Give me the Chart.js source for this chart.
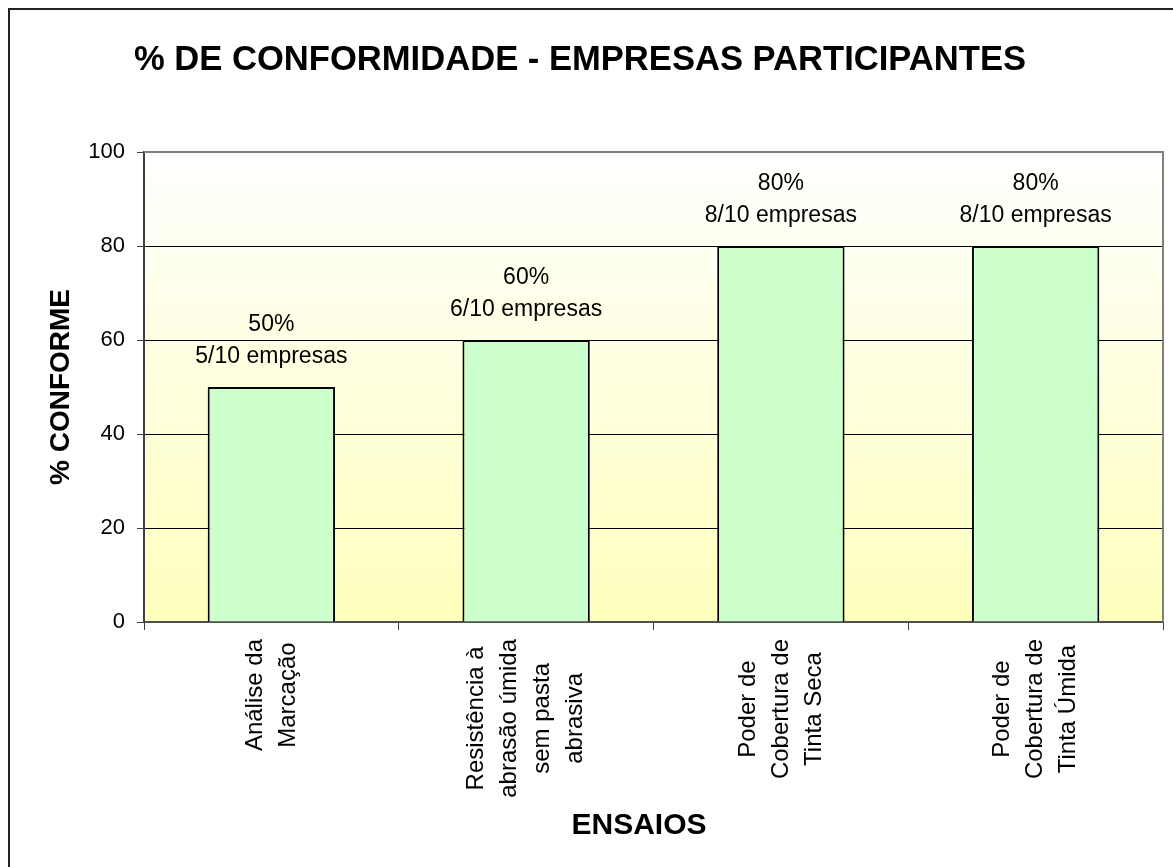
<!DOCTYPE html>
<html>
<head>
<meta charset="utf-8">
<script src="https://cdn.jsdelivr.net/npm/chart.js@4.4.0/dist/chart.umd.min.js"></script>
<style>
  body { margin: 0; background: #fff; }
  canvas { display: block; }
</style>
</head>
<body>
<canvas id="conformidade_chart" width="1173" height="867"></canvas>
<script>
// data
var ensaios = [
  ["Análise da", "Marcação"],
  ["Resistência à", "abrasão úmida", "sem pasta", "abrasiva"],
  ["Poder de", "Cobertura de", "Tinta Seca"],
  ["Poder de", "Cobertura de", "Tinta Úmida"]
];
var conforme = [50, 60, 80, 80];
var empresas_ok = [5, 6, 8, 8];
var empresas_total = 10;
var y_ticks = [0, 20, 40, 60, 80, 100];

var FONT = "Arial, 'Liberation Sans', sans-serif";
Chart.defaults.font.family = FONT;
Chart.defaults.color = "#000";

var decor = {
  id: "decor",
  beforeDraw: function(chart) {
    var ctx = chart.ctx, a = chart.chartArea;
    ctx.save();
    ctx.fillStyle = "#fff";
    ctx.fillRect(0, 0, chart.width, chart.height);
    // plot background: white to pale yellow
    var g = ctx.createLinearGradient(0, a.top, 0, a.bottom);
    g.addColorStop(0, "#ffffff");
    g.addColorStop(1, "#ffffbd");
    ctx.fillStyle = g;
    ctx.fillRect(a.left, a.top, a.right - a.left, a.bottom - a.top);
    ctx.restore();
  },
  afterDatasetsDraw: function(chart) {
    // two line labels above each bar
    var ctx = chart.ctx;
    var bars = chart.getDatasetMeta(0).data;
    ctx.save();
    ctx.font = "23px " + FONT;
    ctx.fillStyle = "#000";
    ctx.textAlign = "center";
    ctx.textBaseline = "middle";
    for (var i in bars) {
      var b = bars[i];
      ctx.fillText(conforme[i] + "%", b.x, b.y - 62);
      ctx.fillText(empresas_ok[i] + "/" + empresas_total + " empresas", b.x, b.y - 30);
    }
    ctx.restore();
  },
  afterDraw: function(chart) {
    var ctx = chart.ctx, a = chart.chartArea;
    var xs = chart.scales.x;
    ctx.save();

    // plot border top / right
    ctx.strokeStyle = "#808080";
    ctx.lineWidth = 2;
    ctx.beginPath();
    ctx.moveTo(a.left, a.top);
    ctx.lineTo(a.right, a.top);
    ctx.lineTo(a.right, a.bottom);
    ctx.stroke();

    // rotated category labels, lines centred in the block
    ctx.font = "24px " + FONT;
    ctx.fillStyle = "#000";
    ctx.textAlign = "center";
    ctx.textBaseline = "middle";
    for (var i = 0; i < ensaios.length; i++) {
      var lines = ensaios[i];
      var w = 0;
      for (var k = 0; k < lines.length; k++) w = Math.max(w, ctx.measureText(lines[k]).width);
      var x = xs.getPixelForValue(i);
      ctx.save();
      ctx.translate(x, a.bottom + 17 + w / 2);
      ctx.rotate(-Math.PI / 2);
      for (var k = 0; k < lines.length; k++) {
        ctx.fillText(lines[k], 0, (k - (lines.length - 1) / 2) * 33);
      }
      ctx.restore();
    }

    // titles
    ctx.font = "bold 34.6px " + FONT;
    ctx.textBaseline = "alphabetic";
    ctx.fillText("% DE CONFORMIDADE - EMPRESAS PARTICIPANTES", 580, 70);

    ctx.font = "bold 30px " + FONT;
    ctx.fillText("ENSAIOS", 639, 834);

    ctx.save();
    ctx.font = "bold 28px " + FONT;
    ctx.translate(69, (a.top + a.bottom) / 2);
    ctx.rotate(-Math.PI / 2);
    ctx.fillText("% CONFORME", 0, 0);
    ctx.restore();

    // outer frame (right and bottom sides fall outside the picture)
    ctx.strokeStyle = "#222";
    ctx.lineWidth = 2;
    ctx.strokeRect(9, 9, chart.width + 20, chart.height + 20);
    ctx.restore();
  }
};

new Chart(document.getElementById("conformidade_chart"), {
  type: "bar",
  data: {
    labels: ensaios,
    datasets: [{
      data: conforme,
      backgroundColor: "#ccffcc",
      borderColor: "#000",
      borderWidth: 2,
      categoryPercentage: 1,
      barPercentage: 0.5
    }]
  },
  options: {
    responsive: false,
    animation: false,
    devicePixelRatio: 1,
    layout: { padding: { left: 0, top: 152, right: 10, bottom: 0 } },
    plugins: {
      legend: { display: false },
      tooltip: { enabled: false }
    },
    scales: {
      x: {
        offset: true,
        grid: {
          offset: true,
          drawOnChartArea: false,
          drawTicks: true,
          tickLength: 8,
          tickColor: "#404040"
        },
        border: { display: true, color: "#505050", width: 2 },
        ticks: { display: false },
        afterFit: function(scale) { scale.height = 245; }
      },
      y: {
        min: 0,
        max: 100,
        afterBuildTicks: function(scale) {
          scale.ticks = y_ticks.map(function(v) { return { value: v }; });
        },
        grid: {
          color: function(c) { return c.tick.value == 100 ? "#808080" : "#000"; },
          lineWidth: 1,
          tickLength: 7,
          tickColor: "#404040"
        },
        border: { display: true, color: "#404040", width: 2 },
        ticks: {
          font: { size: 22 },
          color: "#000",
          padding: 12
        },
        afterFit: function(scale) { scale.width = 144; }
      }
    }
  },
  plugins: [decor]
});
</script>
</body>
</html>
